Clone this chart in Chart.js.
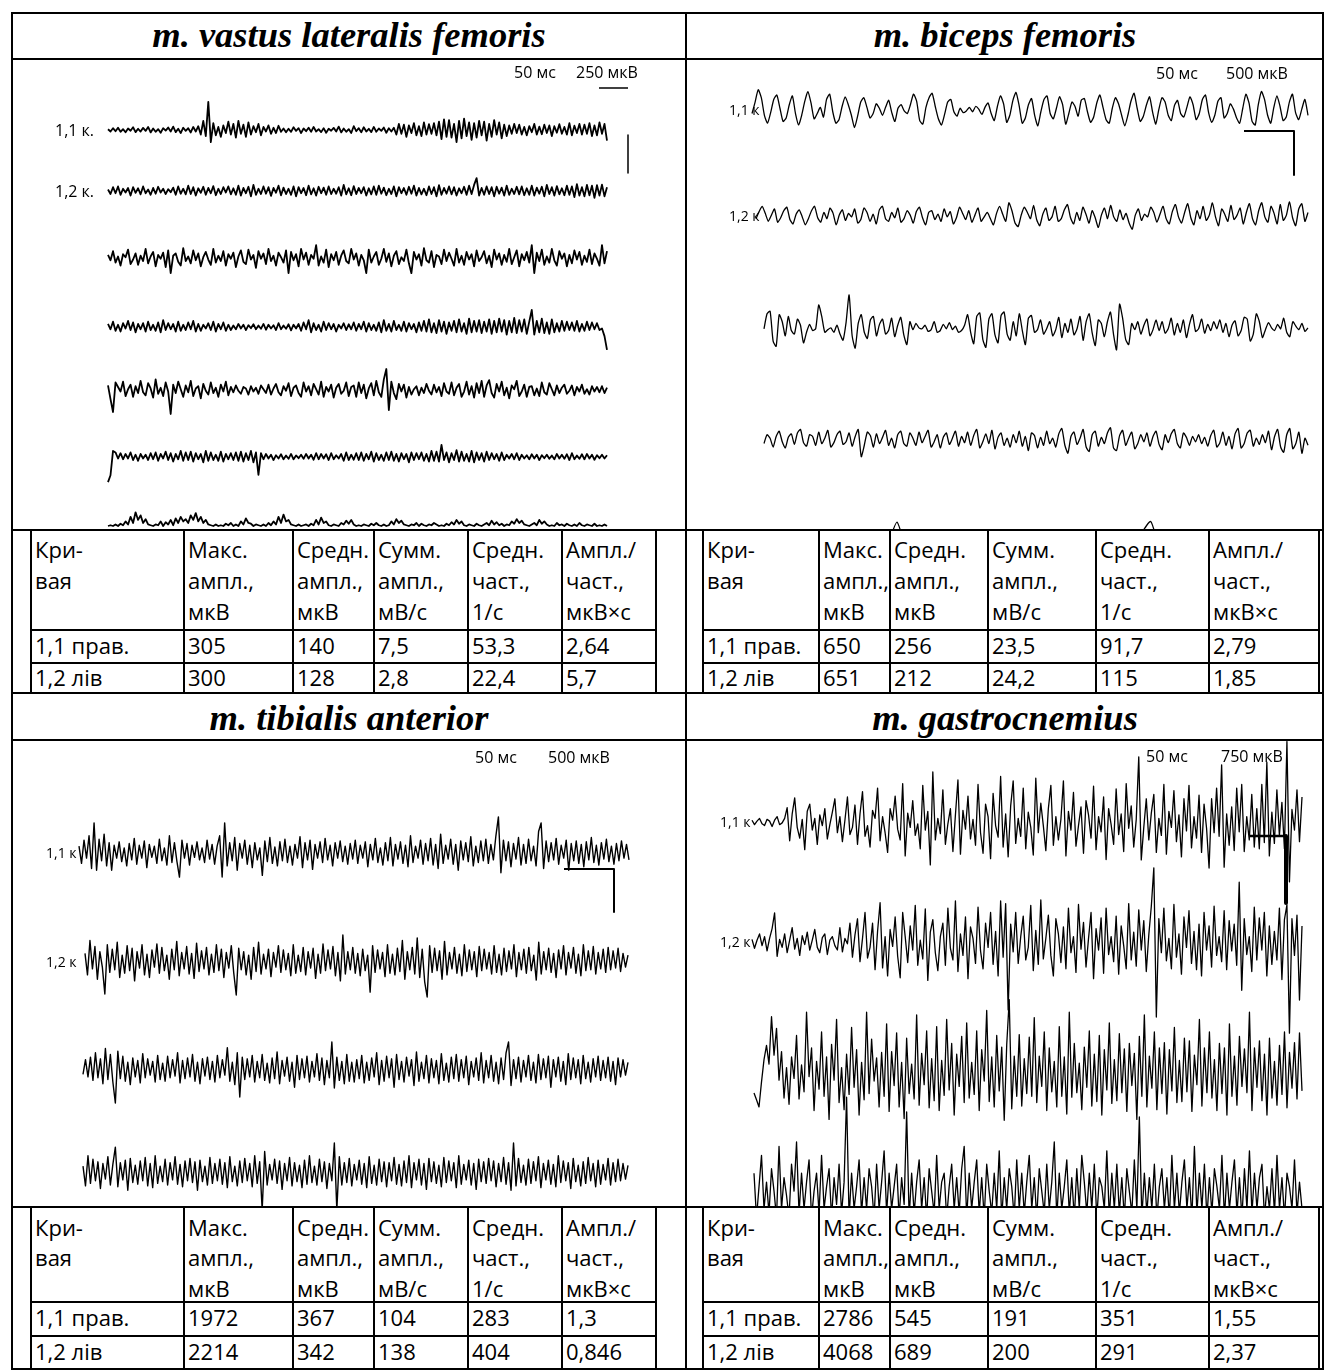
<!DOCTYPE html>
<html>
<head>
<meta charset="utf-8">
<title>ЕМГ м'язів нижньої кінцівки</title>
<script src="https://cdn.jsdelivr.net/npm/chart.js@4.4.1/dist/chart.umd.min.js"></script>
<style>
  html, body { margin: 0; padding: 0; background: #fff; }
  #page { position: relative; width: 1325px; height: 1372px; overflow: hidden; background: #fff; }
  .ln { position: absolute; background: #000; }
  .tx { position: absolute; white-space: nowrap; color: #000; }
  canvas { position: absolute; }
</style>
</head>
<body>
<div id="page"></div>
<script>
// ---------------------------------------------------------------------------
// Surface EMG recordings (values in µV) for four muscles, with summary tables.
// ---------------------------------------------------------------------------

const muscleTitles = ['m. vastus lateralis femoris', 'm. biceps femoris', 'm. tibialis anterior', 'm. gastrocnemius'];

// calibration bars: [time, ms ; amplitude, µV]
const vastusCalib   = [50, 250];
const bicepsCalib   = [50, 500];
const tibialisCalib = [50, 500];
const gastroCalib   = [50, 750];

const vastusLabels   = ['1,1 к.', '1,2 к.'];
const bicepsLabels   = ['1,1 к', '1,2 к'];
const tibialisLabels = ['1,1 к', '1,2 к'];
const gastroLabels   = ['1,1 к', '1,2 к'];

// ---- m. vastus lateralis femoris -----------------------------------------
const vastusT1 = [5,-10,12,-8,15,-12,6,-15,10,-5,18,-14,8,-10,14,-6,20,-16,10,-12,6,-18,12,-4,16,-10,22,-14,8,-20,15,-6,12,-16,20,-10,
  25,-30,60,-40,185,-80,
  45,-35,20,-45,30,-20,55,-30,40,-50,60,-25,35,-45,50,-30,25,-15,40,-35,20,-10,30,-25,15,-20,28,-12,
  10,-15,8,-12,18,-6,12,-20,10,-8,15,-12,20,-10,6,-14,12,-18,8,-5,14,-10,22,-16,10,-12,6,-20,25,-8,12,-15,18,-10,8,-14,20,-12,10,-6,16,-18,12,-10,15,
  -30,40,-25,35,-45,30,-20,45,-35,25,-40,50,-30,38,-25,45,-35,
  55,-60,70,-45,65,-50,40,-80,60,-55,75,-40,50,-65,45,-50,60,-35,55,-70,40,-45,65,-30,50,-55,35,-40,
  30,-25,40,-20,35,-30,20,-35,25,-15,40,-30,22,-28,35,-20,30,-40,25,-18,38,-25,20,-30,45,-35,28,-20,40,-30,35,-25,45,-40,30,-35,50,-25,40,
  -70];
const vastusT2 = [10,-20,25,-15,30,-25,15,-10,20,-30,25,-12,18,-22,30,-15,10,-25,20,-18,28,-10,15,-20,12,-8,22,-25,30,-18,15,-22,35,-20,25,-30,18,-12,28,-25,20,-15,32,-28,15,-20,25,-10,30,-22,
  18,-25,35,-30,20,-15,28,-35,40,-25,15,-20,30,-18,25,-32,20,-12,35,-28,22,-20,15,-25,30,-35,25,-15,20,-28,35,-22,18,-30,28,-15,22,-25,30,-20,15,-18,25,-30,40,-22,18,-28,32,-20,
  20,-15,25,-30,18,-22,30,-25,35,-18,22,-28,15,-20,30,-35,25,-15,20,-25,28,-18,35,-30,20,-22,15,-28,30,-20,25,-35,38,-25,20,-18,30,-22,25,-30,18,-15,28,-25,35,-20,40,85,-30,20,
  -25,30,-20,25,-35,28,-18,22,-30,35,-25,15,-20,28,-22,30,-28,18,-25,35,-30,22,-18,28,-35,40,-20,25,-30,32,-22,18,-28,35,-25,30,-40,45,-30,25,-35,40,-28,35,-45,38,-30,42,-35,25];
const vastusT3 = [20,-15,45,-30,10,-50,25,5,55,-40,-10,30,-45,15,-20,60,-35,10,40,-55,20,-5,35,-60,50,-100,15,30,-25,-50,65,-20,10,-35,50,-15,30,-55,5,40,-10,-45,60,-30,15,-20,45,-50,25,-5,
  35,-60,10,50,-25,-40,55,-10,20,-65,45,-5,30,-40,60,-20,15,-50,35,5,-30,50,-100,40,-15,25,-55,60,-10,35,-45,20,-5,85,-50,10,-30,55,-60,25,-15,40,-45,15,50,-20,-35,60,-10,30,
  -50,20,-15,-100,55,-30,10,40,-45,-5,60,-25,30,-55,15,45,-40,5,-20,55,-35,-100,40,-10,25,-50,65,-15,-30,45,-60,20,10,-40,55,-20,35,-5,-50,60,-30,15,-45,40,-10,25,-55,50,-20,5,
  45,-35,15,-60,55,-10,30,-45,20,-25,60,-40,5,50,-55,25,-15,40,-30,85,-100,35,-20,55,-45,10,-30,60,-15,-50,45,-5,30,-55,20,-35,50,-10,40,-45,15,-25,55,-40,30,-5,-50,85,-35,45];
const vastusT4 = [20,-15,35,-25,15,-30,25,-10,40,-20,30,-35,20,-15,25,-30,35,-20,15,-25,30,-35,45,-20,25,-15,20,-30,35,-25,15,-20,30,-15,40,-30,20,-25,15,-10,25,-20,35,-30,20,-15,30,-25,15,-20,
  10,-15,20,-10,15,-20,12,-8,18,-15,10,-12,20,-18,15,-10,12,-20,25,-15,10,-12,18,-22,15,-10,20,-25,30,-15,45,-35,25,-20,15,-30,35,-20,25,-15,20,-30,15,-10,25,-20,18,-15,30,-25,
  20,-15,35,-30,25,-20,15,-25,30,-35,45,-25,20,-30,40,-20,15,-25,35,-30,25,-15,20,-35,30,-25,40,-30,50,-35,25,-40,45,-30,35,-45,30,-25,40,-35,50,-30,25,-45,55,-35,40,-30,45,-40,
  35,-30,50,-45,40,-35,55,-30,45,-50,40,-35,60,-40,45,-30,50,-45,35,112,-50,40,-35,55,-40,30,-45,50,-35,25,-30,40,-25,35,-20,30,-25,40,-30,20,-25,35,-20,30,-15,25,-20,-10,-60,-150];
const vastusT5 = [30,-60,-145,50,20,-10,55,-40,5,35,-45,25,-20,60,-15,-35,45,10,-50,70,-25,15,-40,50,-10,-158,35,-20,55,5,-45,30,-15,60,-40,10,25,-55,40,-5,-30,50,-20,15,-45,35,-10,55,-35,20,
  -15,30,-5,-25,20,10,-30,25,-10,15,-25,30,5,-20,35,-30,10,40,-15,-35,25,-5,45,-40,15,30,-20,-45,50,-10,25,-35,40,5,-30,55,-45,20,-10,35,-50,15,40,-25,-5,50,-40,20,30,-45,
  50,-20,35,-55,10,45,-35,60,-15,-45,70,138,-132,55,-20,-60,40,-10,35,-50,20,-30,5,25,-35,15,-20,40,-5,-30,35,-15,20,-40,45,-10,-25,50,-35,15,40,-45,-10,55,-30,25,-50,45,-20,60,
  -45,30,65,-20,-50,40,-10,55,-35,15,-55,30,5,60,-40,-10,35,-45,20,25,-35,10,-40,50,-15,-30,45,5,-35,30,-20,15,35,-25,-5,30,-35,20,-10,35,-25,5,-30,25,-10,20,-15,25,-20,15];
const vastusT6 = [-165,-120,40,30,-10,25,-15,20,-10,30,-20,15,-25,20,-10,15,-20,25,-15,30,-25,20,-10,35,-20,25,-30,20,-15,40,-25,30,-20,35,-30,25,-15,20,-35,40,-25,30,-20,15,-25,35,-30,20,-15,25,
  -20,30,-25,35,-30,25,-20,40,-35,30,-118,25,-15,20,-10,15,-20,12,-10,18,-15,10,-12,20,-15,10,-8,15,-12,20,-10,15,-18,25,-15,20,-10,18,-20,25,-15,12,-10,20,-25,30,-20,15,-18,25,
  -20,30,-25,20,-15,35,-30,25,-20,15,-25,30,-20,35,-25,20,-30,25,-15,20,-35,30,-20,25,-15,30,-25,20,-30,40,-25,35,-30,80,-20,30,-35,25,-20,45,-30,35,-25,20,-30,40,-35,30,-20,25,
  -30,35,-20,25,-15,20,-25,30,-20,15,-10,20,-15,25,-20,15,-10,12,-15,18,-10,15,-20,12,-8,15,-12,10,-15,20,-10,15,-12,18,-20,25,-15,10,-12,18,-15,20,-10,15,-18,12,-8,15,-10,12];
const vastusT7 = [0,5,0,10,0,15,5,30,10,60,20,90,40,70,20,45,10,5,0,10,5,30,0,25,10,40,5,50,20,60,30,45,20,70,40,85,30,60,20,40,10,5,0,10,0,5,0,15,5,20,
  0,10,0,30,10,50,20,15,0,10,5,0,10,0,20,5,30,10,60,20,75,30,40,10,5,0,10,0,5,10,0,15,5,40,10,55,20,30,5,0,10,5,0,20,10,35,15,40,10,0,
  5,0,10,5,0,15,5,20,5,0,10,0,5,30,10,45,20,35,10,5,0,10,5,20,0,15,5,0,10,5,20,10,0,5,0,15,5,25,10,40,15,30,5,0,10,5,0,15,5,0,
  10,20,5,35,10,25,5,15,0,10,5,30,15,45,20,35,10,5,0,10,20,5,40,15,30,10,0,5,0,20,5,10,0,15,5,0,10,0,20,5,0,10,5,0,15,0,5,0,10,0];

// ---- m. biceps femoris ----------------------------------------------------
const bicepsT1 = [-40,90,230,140,-60,-150,-30,120,170,20,-130,-90,60,160,-40,-170,-60,100,210,80,-100,-40,30,-80,120,180,-20,-150,-110,40,150,60,-60,-200,-70,90,140,30,-90,-40,70,20,-60,30,110,-30,-130,20,60,-10,-40,60,180,100,-120,-160,30,140,190,40,
  -100,-170,-50,90,120,-20,-70,20,-30,-10,30,-20,40,10,-50,30,80,-40,-120,40,160,70,-140,-60,110,200,50,-150,-90,60,130,-60,-180,-20,120,160,-40,-100,20,150,60,-160,-40,90,40,-70,110,130,-20,-140,-80,80,170,30,-110,-150,20,140,70,-60,
  -180,-60,100,190,20,-130,-70,60,150,-30,-160,10,140,90,-60,-120,50,110,-40,-80,30,150,60,-110,-40,120,170,-30,-140,-60,100,140,-90,-40,70,10,-90,-150,20,180,80,-130,-170,60,210,120,-60,-150,30,160,40,-120,-80,90,180,-30,-110,10,120,-60];
const bicepsT2 = [-30,50,110,30,-60,10,80,-70,-20,60,100,-40,-90,20,70,-10,-100,-30,60,110,-20,-70,40,-30,90,30,-100,10,70,-50,30,-10,80,-80,-40,90,40,-60,20,-90,70,110,-30,-60,40,-20,90,-70,-30,60,10,-80,50,100,-20,-100,40,60,-40,20,
  -60,80,-10,50,-90,-20,100,30,-40,60,-70,10,90,-60,-10,40,-30,-100,30,110,20,-60,150,60,-80,-120,10,100,40,-30,120,-40,-110,20,90,-50,-10,110,-60,-30,70,130,-20,-90,40,-50,100,20,-80,60,-20,-130,10,90,-30,120,-10,-60,70,-40,
  30,-80,-150,10,80,-50,20,-10,100,40,-70,20,110,-30,-90,50,130,-10,-80,40,140,-20,-100,60,-30,110,-50,10,150,-10,-110,80,20,-60,120,-40,10,90,-90,40,140,-30,-100,60,150,-10,-70,110,30,-90,130,-50,10,160,-20,-110,80,140,-60,40];
const bicepsT3 = [-20,150,180,-160,-220,140,60,-100,120,-40,-80,90,20,-180,-60,30,-40,-20,250,120,-60,-30,-10,-60,20,-80,-150,50,364,-100,-240,40,140,-60,-130,80,120,-100,30,90,-80,-40,100,-110,20,110,-90,-200,60,-30,40,-10,-20,20,-50,-30,60,-60,-40,30,
  -20,50,-30,10,-60,-40,20,140,-60,-190,120,160,-140,-230,90,150,-90,-180,130,170,-80,-150,60,-100,150,-40,-200,100,130,-60,-30,80,-80,-20,60,-100,-30,110,-120,40,-60,90,-90,-20,120,-150,60,150,-70,-210,80,40,-110,60,170,-80,-260,260,100,-140,
  -200,40,-30,60,-80,20,90,-100,-30,80,-40,60,-70,-20,100,-90,40,-60,80,-120,30,140,-50,-20,90,-70,30,-40,60,-20,80,-60,40,-110,20,70,-100,-40,110,90,-160,-80,150,60,-120,-30,50,-10,-40,30,-20,100,-60,-110,60,10,-30,40,-50,-10];
const bicepsT4 = [-40,60,20,-80,40,100,-20,-90,30,70,-50,80,120,-30,-70,60,40,-60,90,-40,20,110,-80,-30,60,100,-50,-20,80,-70,40,120,-190,-60,90,50,-80,70,-40,30,110,-60,20,-90,60,100,-40,-70,80,20,-60,90,-30,40,110,-80,-20,60,-90,30,
  80,-50,20,100,-70,40,-30,90,-60,50,120,-90,-20,70,-40,110,-100,30,80,-60,20,-80,60,-30,100,-70,40,-120,80,50,-90,30,-60,100,-40,20,-80,70,130,-60,-150,40,90,-50,20,120,-80,-130,60,100,-70,30,-40,80,140,-90,-120,50,110,-60,
  20,90,-100,-40,60,-20,80,-70,40,100,-50,-110,60,-30,70,120,-40,-90,80,30,-60,40,-20,60,-40,30,-70,50,110,-80,-30,90,-60,40,-100,70,130,-90,-40,80,110,-70,20,-50,60,-30,100,-110,40,120,-80,-140,60,130,-100,-40,90,-150,20,-60];
const bicepsT5 = [60,-80,100,-40,20,-120,80,-60,40,120,-30,295,-100,50,-80,130,-20,90,-150,40,-60,110,-90,30,150,-50,-120,80,-40,60,-100,120,300,-140,40,-60,100,-80,20,130,-110,50,-30,90,-70,40];

// ---- m. tibialis anterior -------------------------------------------------
const tibialisT1 = [80,-120,150,-60,200,-180,350,-200,160,-90,220,-150,120,-200,90,-60,130,-100,60,-150,110,-80,170,-130,90,-60,140,-170,100,-50,80,-120,160,-90,60,-140,200,-110,120,-100,-280,150,-60,110,-140,90,-50,130,-80,60,-110,150,-70,100,-130,
  80,200,-280,350,-150,120,-90,180,-200,110,-60,150,-130,90,-170,120,-80,60,-260,140,-100,180,-120,70,-150,130,-90,160,-110,80,-140,100,-60,190,-170,120,-80,150,-190,100,-60,130,-110,170,-80,90,-150,120,-60,140,-100,80,-130,110,-70,
  150,-120,90,-60,130,-160,100,-80,170,-110,60,-140,120,-90,180,-150,100,-70,130,-120,90,-160,200,-110,80,-60,150,-130,110,-90,170,-140,100,-180,220,-120,90,-70,160,-130,100,-200,140,-80,120,-100,190,-150,80,-110,140,-90,160,-120,100,
  -80,200,420,-230,150,-90,130,-160,110,-70,180,-140,100,-120,160,-90,80,-150,250,350,-180,140,-100,120,-80,170,-130,90,-60,150,-200,110,-90,140,-120,100,-160,130,-80,180,-110,90,-140,120,-70,160,-100,80,-130,110,-90,140,-60,100,-80];
const tibialisT2 = [100,-150,250,-80,180,-200,120,-60,-372,200,-120,150,-90,230,-180,80,-130,190,-100,160,-220,120,-70,200,-150,90,-180,140,-60,210,-130,170,-100,80,-200,150,-90,240,-160,110,-80,180,-140,100,-190,220,-110,130,-80,170,-150,90,-120,200,-100,
  150,-180,110,-70,190,-130,-384,160,-90,120,-150,80,-200,170,-110,230,-140,90,-80,150,-170,110,-60,190,-120,140,-90,100,-160,200,-130,80,-110,170,-150,120,-70,160,-190,90,-130,210,-100,140,-80,180,-160,110,-220,314,-140,120,-90,170,-130,
  100,-160,150,-100,80,-350,190,-120,140,-80,110,-170,200,-130,90,-150,160,-110,250,-200,120,-90,170,-140,280,-180,150,-230,-407,190,-120,160,-100,130,-200,240,-150,110,-80,170,-130,90,-160,200,-110,140,-90,120,-170,180,-100,150,-80,110,-140,
  190,-120,90,-150,160,-110,130,-80,200,-170,110,-90,150,-130,170,-100,80,-210,230,-140,120,-90,160,-120,100,-180,140,-80,190,-150,110,-70,170,-130,90,-160,200,-100,130,-90,180,-140,110,-80,150,-120,170,-90,130,-70,160,-110,100,-60,80];
const tibialisT3 = [-50,120,-80,150,-120,200,-90,130,-160,250,-110,180,-140,-384,220,-100,160,-130,90,-170,140,-80,110,-150,190,-90,130,-60,100,-140,170,-110,80,-130,160,-90,120,-70,200,-150,110,-100,140,-80,180,-130,90,-160,130,-70,150,-110,100,-140,170,
  -90,120,-60,260,-130,90,-170,200,-314,150,-110,130,-80,170,-140,100,-90,180,-120,80,-150,140,-100,210,-160,110,-70,150,-130,90,-200,170,-110,130,-90,160,-140,100,-80,190,-120,140,-170,110,-90,326,-210,150,-120,100,-160,180,-130,90,-140,
  120,-100,170,-150,90,-120,140,-80,200,-170,110,-130,160,-90,130,-200,180,-110,100,-140,150,-70,120,-180,210,-130,90,-100,170,-150,130,-90,110,-160,190,-120,80,-140,150,-100,180,-130,120,-90,160,-170,100,-80,140,-120,200,-150,110,-90,170,
  -130,90,-160,140,-110,200,326,-180,120,-100,150,-140,110,-80,170,-120,90,-150,180,-110,130,-90,160,-200,120,-80,150,-130,100,-170,190,-110,140,-90,120,-160,170,-100,90,-140,130,-80,160,-120,110,-90,150,-130,100,-170,140,-80,120,-60,90];
const tibialisT4 = [80,-150,200,-120,160,-90,130,-180,110,-70,190,-140,100,300,-160,120,-80,150,-200,170,-110,90,-130,140,-90,180,-150,110,-170,200,-120,80,-100,160,-140,120,-80,190,-130,100,-160,140,-90,170,-110,130,-200,150,-100,80,-140,180,-120,110,-90,
  160,-130,120,-170,190,-100,80,-150,140,-110,170,-90,110,-160,200,-120,130,-430,250,-140,100,-80,160,-120,140,-190,110,-90,180,-150,120,-100,90,-170,150,-130,200,-110,80,-140,160,-100,130,-180,110,-90,349,-430,190,-140,120,-110,170,-150,100,
  -80,150,-130,110,-170,190,-120,90,-140,160,-100,130,-160,120,-90,180,-130,100,-150,140,-110,200,-170,120,-80,160,-140,110,-190,170,-100,130,-120,90,-160,180,-110,140,-90,120,-170,200,-130,100,-80,150,-140,110,-190,160,-100,130,-120,170,-90,
  140,-160,110,-100,180,-130,120,-200,349,-150,170,-110,90,-140,160,-120,130,-90,190,-170,110,-80,150,-130,100,-160,200,-110,140,-90,120,-180,170,-100,90,-150,130,-120,180,-90,110,-160,150,-130,100,-80,170,-140,120,-100,160,-90,110,-70,90];

// ---- m. gastrocnemius -----------------------------------------------------
const gastroT1 = [20,-30,10,40,-20,-40,30,10,-50,20,60,-30,-10,40,
  160,-210,90,270,-60,-180,30,-310,120,200,-90,40,-250,80,-40,150,-190,-30,110,260,-120,60,-220,20,280,-140,-60,190,-250,
  90,340,-160,-40,-280,130,40,380,-210,60,-120,-340,150,20,290,-80,-200,430,-380,100,-60,240,-150,-20,-300,410,-90,120,-480,560,-200,40,-130,360,-250,-20,150,-330,80,470,-360,130,-80,290,-190,30,-260,420,-120,-350,200,60,-410,320,-40,-170,510,
  -280,90,-390,180,460,-240,40,-160,380,-300,110,-60,-370,490,-120,210,-40,-320,150,410,-260,60,-200,30,460,-380,120,-90,330,-270,-40,170,-350,240,80,-180,400,-310,60,-110,280,-420,150,-30,-250,370,-140,90,-330,430,-70,180,-280,30,730,-425,-60,260,-200,100,
  310,-340,40,-150,420,-360,120,-60,350,-220,80,-390,260,-100,410,-290,60,-180,300,-340,200,-70,-515,260,-120,380,-160,640,-505,90,-260,170,-320,380,-110,420,-330,60,-200,310,-280,150,-300,420,-230,670,-380,110,-240,360,-150,220,-300,900,-670,140,-90,360,-220,280];
const gastroT2 = [30,-70,20,90,-40,60,-100,40,150,325,-160,30,-60,90,-120,20,160,-80,40,-150,70,-30,110,-90,20,140,-60,-120,50,90,-140,20,60,-40,-90,160,-110,40,-20,210,-170,
  80,260,-220,40,330,-180,-60,210,-310,120,440,-290,60,-380,140,-50,280,-160,-400,330,60,-230,180,-90,410,-260,20,-190,370,-430,110,250,-120,-320,60,210,-260,380,-70,-200,460,-330,90,-150,280,-410,170,40,-240,390,-100,-300,210,-60,330,-250,120,-380,460,-170,
  430,-760,200,-110,330,-240,60,290,-200,-60,410,-320,130,-250,470,-190,40,300,-150,-380,260,90,-230,170,-300,380,-120,60,-340,420,-80,220,-280,40,330,-410,150,-90,270,-350,380,-140,60,-220,290,-360,180,-40,-300,430,-200,110,-270,360,-90,240,-330,80,400,830,
  -840,260,-120,380,-210,40,-300,420,-170,90,-360,280,-60,350,-240,120,-310,200,-380,330,-90,180,-280,400,-150,60,-220,350,-310,240,-100,200,-260,670,-540,260,-140,60,-330,390,-200,270,-90,330,-380,180,-250,120,-200,380,-420,250,415,-1020,260,-150,300,-650,180];
const gastroT3 = [-224,-300,-380,-100,150,310,100,630,200,500,-80,240,-280,60,-350,180,-60,420,-290,90,-210,680,-40,280,-420,130,-180,460,-260,180,-520,320,-80,600,-330,60,-410,210,-240,510,-160,260,-470,120,-300,680,-230,380,-90,170,-380,230,-260,550,-430,
  240,-140,450,-380,120,-510,390,-230,100,-290,650,-360,220,-130,470,-390,160,-310,520,-420,140,-250,600,-190,330,-470,210,-150,410,-330,560,-280,120,-240,470,-420,260,-90,700,-320,180,-380,420,-200,290,-530,320,820,-400,190,-260,430,-370,160,-230,
  400,-260,620,-330,190,-150,460,-420,280,-210,130,-380,520,-260,180,-460,680,-270,330,-220,110,-410,290,-160,470,-370,210,-320,420,-470,260,-190,560,-340,150,-310,440,-220,270,-430,330,-140,220,-520,410,-260,650,-380,190,-170,460,-410,280,-230,340,
  -460,260,-200,510,-330,140,-320,390,-210,360,-430,200,-130,600,-370,280,-220,460,-280,150,-420,330,-230,280,-470,550,-260,190,-360,410,-150,270,-220,680,-420,280,-160,360,-310,210,-470,390,-280,130,-360,310,-240,460,-390,230,-170,340,-290,450,-200];
const gastroT4 = [300,-200,150,500,-100,200,-150,350,100,-200,600,-100,250,50,-200,400,100,650,-150,300,-100,200,450,-200,100,300,-150,500,-100,150,350,-200,250,-50,400,-150,200,1150,-200,300,-100,150,450,-150,250,-100,350,150,-200,400,-100,200,550,-150,300,
  -100,150,400,-200,250,-50,985,-200,300,-150,200,450,-100,250,-200,350,100,-150,500,-100,200,300,-200,150,400,-100,250,-150,350,600,-200,300,-100,200,450,-150,250,-200,400,100,-150,300,-100,550,-200,250,-100,350,150,-200,450,-100,300,-150,200,
  500,-100,250,-200,350,100,-150,400,-100,200,650,-200,300,-100,150,450,-150,250,-200,350,-100,500,200,-150,300,-100,400,-200,250,150,-100,550,-200,300,-100,400,-150,250,-200,350,100,-150,450,-100,930,-200,300,-150,250,-100,400,-200,150,350,-100,
  250,-200,500,-100,300,-150,200,450,-100,250,-200,600,-150,300,-100,400,-200,250,-150,350,150,-100,500,-200,300,-100,200,450,-150,250,-200,350,-100,550,-150,300,-100,250,400,-200,150,-100,350,-150,500,-100,250,-200,300,150,-100,450,-150,200,-100];

// ---- summary tables ---------------------------------------------------------
const tableHeader = [['Кри-', 'вая'], ['Макс.', 'ампл.,', 'мкВ'], ['Средн.', 'ампл.,', 'мкВ'],
                     ['Сумм.', 'ампл.,', 'мВ/с'], ['Средн.', 'част.,', '1/с'], ['Ампл./', 'част.,', 'мкВ×с']];
const vastusTable   = [['1,1 прав.', '305', '140', '7,5', '53,3', '2,64'], ['1,2 лів', '300', '128', '2,8', '22,4', '5,7']];
const bicepsTable   = [['1,1 прав.', '650', '256', '23,5', '91,7', '2,79'], ['1,2 лів', '651', '212', '24,2', '115', '1,85']];
const tibialisTable = [['1,1 прав.', '1972', '367', '104', '283', '1,3'], ['1,2 лів', '2214', '342', '138', '404', '0,846']];
const gastroTable   = [['1,1 прав.', '2786', '545', '191', '351', '1,55'], ['1,2 лів', '4068', '689', '200', '291', '2,37']];

// ---------------------------------------------------------------------------
// page geometry
// ---------------------------------------------------------------------------
const SANS = "'Open Sans', 'Noto Sans', sans-serif";
const SERIF = "'Liberation Serif', 'Times New Roman', serif";
const page = document.getElementById('page');

function rect(x, y, w, h) {
  const d = document.createElement('div');
  d.className = 'ln';
  Object.assign(d.style, { left: x + 'px', top: y + 'px', width: w + 'px', height: h + 'px' });
  page.appendChild(d);
}
// text placed by its baseline; k = baseline offset of the font at line-height 1
function label(str, x, baseline, size, opts = {}) {
  const d = document.createElement('div');
  d.className = 'tx';
  d.textContent = str;
  const serif = opts.serif;
  const k = serif ? 0.8375 : 0.888;
  Object.assign(d.style, {
    fontFamily: serif ? SERIF : SANS,
    fontSize: size + 'px',
    lineHeight: size + 'px',
    fontWeight: opts.bold ? 'bold' : 'normal',
    fontStyle: opts.italic ? 'italic' : 'normal',
    top: (baseline - k * size) + 'px'
  });
  if (opts.center !== undefined) {
    Object.assign(d.style, { left: (opts.center - 400) + 'px', width: '800px', textAlign: 'center' });
  } else {
    d.style.left = x + 'px';
  }
  page.appendChild(d);
}

// frame
const LW = 2;
rect(11, 12, 1313, LW);           // top
rect(11, 1368, 1313, LW);         // bottom
rect(11, 12, LW, 1358);           // left
rect(1322, 12, LW, 1358);         // right
rect(685, 12, LW, 1358);          // middle divider
[58, 529, 692, 739, 1206].forEach(y => rect(11, y, 1313, LW));

// titles
const TITLE = { serif: true, bold: true, italic: true };
label(muscleTitles[0], 0, 48, 36.5, { ...TITLE, center: 349 });
label(muscleTitles[1], 0, 48, 36.5, { ...TITLE, center: 1005 });
label(muscleTitles[2], 0, 731, 36.5, { ...TITLE, center: 349 });
label(muscleTitles[3], 0, 731, 36.5, { ...TITLE, center: 1005 });

// tables
const TFONT = 22;
function table(rows, cols, top, headerBottom, rowLine, bottom, headBase, rowBase) {
  cols.forEach(x => rect(x, top, LW, bottom - top + LW));
  rect(cols[0], headerBottom, cols[cols.length - 1] - cols[0] + LW, LW);
  rect(cols[0], rowLine, cols[cols.length - 1] - cols[0] + LW, LW);
  tableHeader.forEach((lines, c) => lines.forEach((t, j) => label(t, cols[c] + 5, headBase[j], TFONT)));
  rows.forEach((r, i) => r.forEach((t, c) => label(t, cols[c] + 5, rowBase[i], TFONT)));
}
const leftCols = [30, 183, 292, 373, 467, 561, 655];
const rightCols = [702, 818, 889, 987, 1095, 1208, 1318];
table(vastusTable, leftCols, 530, 629, 662, 692, [558, 589, 620], [654, 686]);
table(bicepsTable, rightCols, 530, 629, 662, 692, [558, 589, 620], [654, 686]);
table(tibialisTable, leftCols, 1207, 1301, 1335, 1368, [1236, 1266, 1297], [1326, 1360]);
table(gastroTable, rightCols, 1207, 1301, 1335, 1368, [1236, 1266, 1297], [1326, 1360]);

// ---------------------------------------------------------------------------
// EMG panels: one Chart.js line chart per muscle, traces stacked on one µV axis
// ---------------------------------------------------------------------------
function panel(p) {
  const c = document.createElement('canvas');
  c.width = p.width; c.height = p.height;
  Object.assign(c.style, { left: p.left + 'px', top: p.top + 'px', width: p.width + 'px', height: p.height + 'px' });
  page.appendChild(c);

  const tAt = px => (px - p.left) * p.msPerPx;     // page column -> ms
  const uAt = py => -(py - p.top) * p.uvPerPx;     // page row -> µV
  const [ms, uv] = p.calib;

  const datasets = p.traces.map(tr => {
    const n = tr.values.length, t0 = tAt(tr.from), t1 = tAt(tr.to), base = uAt(tr.row);
    return {
      data: tr.values.map((v, i) => ({ x: t0 + (t1 - t0) * i / (n - 1), y: base + v })),
      borderWidth: p.lineWidth,
      tension: p.tension || 0
    };
  });
  // calibration bars
  const hx = tAt(p.barH[0]), hy = uAt(p.barH[1]);
  datasets.push({ data: [{ x: hx, y: hy }, { x: hx + ms, y: hy }], borderWidth: p.barH[2], tension: 0 });
  const vx = tAt(p.barV[0]), vy = uAt(p.barV[1]);
  datasets.push({ data: [{ x: vx, y: vy }, { x: vx, y: vy - uv }], borderWidth: p.barV[2], tension: 0 });

  new Chart(c, {
    type: 'line',
    data: { datasets },
    options: {
      responsive: false, animation: false, events: [], devicePixelRatio: 1,
      layout: { padding: 0 },
      plugins: { legend: { display: false }, tooltip: { enabled: false } },
      elements: {
        point: { radius: 0 },
        line: { borderColor: '#000', borderJoinStyle: 'round', borderCapStyle: 'butt', fill: false }
      },
      scales: {
        x: { type: 'linear', display: false, min: 0, max: p.width * p.msPerPx },
        y: { type: 'linear', display: false, min: -p.height * p.uvPerPx, max: 0 }
      }
    }
  });

  // trace names and calibration captions
  p.names.forEach((s, i) => label(s, p.nameX, p.traces[i].row + p.nameDy, p.nameSize));
  label(ms + ' мс', p.capMs, p.capBase, 16);
  label(uv + ' мкВ', p.capUv, p.capBase, 16);
}

panel({
  left: 13, top: 60, width: 672, height: 469,
  msPerPx: 50 / 29, uvPerPx: 250 / 38, lineWidth: 1.8, calib: vastusCalib,
  traces: [
    { values: vastusT1, from: 108, to: 607, row: 130 },
    { values: vastusT2, from: 108, to: 607, row: 191 },
    { values: vastusT3, from: 108, to: 607, row: 258 },
    { values: vastusT4, from: 108, to: 607, row: 327 },
    { values: vastusT5, from: 108, to: 607, row: 390 },
    { values: vastusT6, from: 108, to: 607, row: 457 },
    { values: vastusT7, from: 108, to: 607, row: 526 }
  ],
  barH: [599, 88, 1.5], barV: [628, 135, 1.5],
  names: vastusLabels, nameX: 55, nameDy: 6, nameSize: 16,
  capMs: 514, capUv: 576, capBase: 78
});

panel({
  left: 687, top: 60, width: 635, height: 469,
  msPerPx: 1, uvPerPx: 500 / 44, lineWidth: 1.3, tension: 0.2, calib: bicepsCalib,
  traces: [
    { values: bicepsT1, from: 752, to: 1308, row: 110 },
    { values: bicepsT2, from: 756, to: 1308, row: 216 },
    { values: bicepsT3, from: 764, to: 1308, row: 327 },
    { values: bicepsT4, from: 764, to: 1308, row: 440 },
    { values: bicepsT5, from: 764, to: 1308, row: 548 }
  ],
  barH: [1244, 131, 2], barV: [1294, 131, 2],
  names: bicepsLabels, nameX: 729, nameDy: 5, nameSize: 14,
  capMs: 1156, capUv: 1226, capBase: 79
});

panel({
  left: 13, top: 741, width: 672, height: 465,
  msPerPx: 1, uvPerPx: 500 / 43, lineWidth: 1.4, calib: tibialisCalib,
  traces: [
    { values: tibialisT1, from: 79, to: 629, row: 853 },
    { values: tibialisT2, from: 85, to: 628, row: 962 },
    { values: tibialisT3, from: 83, to: 628, row: 1070 },
    { values: tibialisT4, from: 83, to: 628, row: 1173 }
  ],
  barH: [564, 869, 2], barV: [614, 869, 2],
  names: tibialisLabels, nameX: 46, nameDy: 5, nameSize: 14,
  capMs: 475, capUv: 548, capBase: 763
});

panel({
  left: 687, top: 741, width: 635, height: 465,
  msPerPx: 50 / 37, uvPerPx: 750 / 67, lineWidth: 1.3, calib: gastroCalib,
  traces: [
    { values: gastroT1, from: 752, to: 1302, row: 822 },
    { values: gastroT2, from: 752, to: 1302, row: 942 },
    { values: gastroT3, from: 754, to: 1302, row: 1073 },
    { values: gastroT4, from: 754, to: 1302, row: 1200 }
  ],
  barH: [1249, 836, 2.5], barV: [1286, 836, 4],
  names: gastroLabels, nameX: 720, nameDy: 5, nameSize: 14,
  capMs: 1146, capUv: 1221, capBase: 762
});
</script>
</body>
</html>
